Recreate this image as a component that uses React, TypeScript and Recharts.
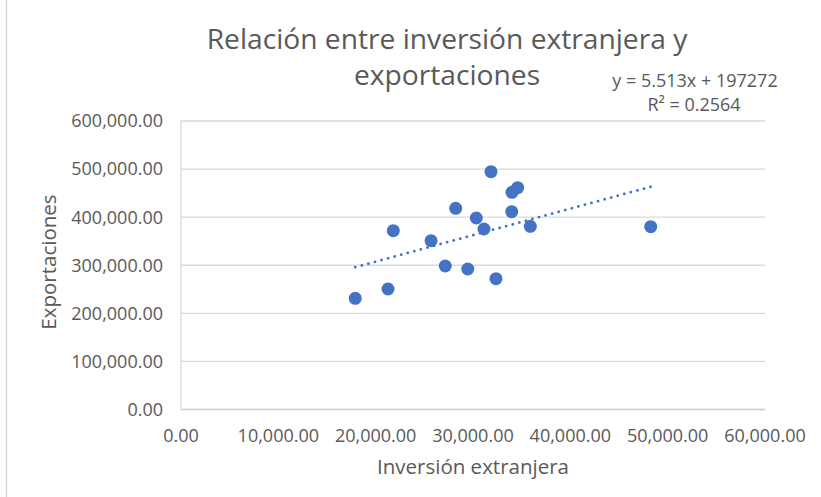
import React from 'react';
import { ScatterChart, Scatter, XAxis, YAxis, CartesianGrid } from 'recharts';

const inversion = [17900, 21270, 21810, 25690, 27150, 28220, 29460, 30340, 31130, 31850, 32360, 33980, 34010, 34590, 35890, 48260];
const exportaciones = [231300, 250600, 371900, 351100, 298400, 418400, 292200, 398300, 375400, 494600, 272000, 411400, 451700, 461300, 381000, 380200];
const xTicks = [0, 10000, 20000, 30000, 40000, 50000, 60000];
const yTicks = [0, 100000, 200000, 300000, 400000, 500000, 600000];
const trendSlope = 5.513;
const trendIntercept = 197272;
const trendR2 = '0.2564';
const titleLines = ['Relación entre inversión extranjera y', 'exportaciones'];
const xTitle = 'Inversión extranjera';
const yTitle = 'Exportaciones';

const points = inversion.map((x, i) => ({ x, y: exportaciones[i] }));
const xMin = Math.min(...inversion);
const xMax = Math.max(...inversion);
const trend = [
  { x: xMin, y: trendSlope * xMin + trendIntercept },
  { x: xMax, y: trendSlope * xMax + trendIntercept },
];

const fmt = (v: number) =>
  v.toLocaleString('en-US', { minimumFractionDigits: 2, maximumFractionDigits: 2 });

const FONT = '"Open Sans", sans-serif';
const TXT = '#595959';
const BLUE = '#4472C4';

export default function App() {
  return (
    <div style={{ position: 'absolute', left: 0, top: 0, width: 821, height: 497, background: '#fff' }}>
      <ScatterChart width={821} height={497} margin={{ top: 121, right: 56, left: 0, bottom: 0 }}>
        <CartesianGrid horizontal={true} vertical={false} stroke="#d9d9d9" strokeWidth={1.3} />
        <XAxis
          type="number"
          dataKey="x"
          domain={[0, 60000]}
          ticks={xTicks}
          tickFormatter={fmt}
          height={87.5}
          tickLine={false}
          tickSize={0}
          tickMargin={20}
          axisLine={{ stroke: '#d0d0d0', strokeWidth: 1.3 }}
          tick={{ fill: TXT, fontSize: 18, fontFamily: FONT }}
          interval={0}
        />
        <YAxis
          type="number"
          dataKey="y"
          domain={[0, 600000]}
          ticks={yTicks}
          tickFormatter={fmt}
          width={181}
          tickLine={false}
          tickSize={0}
          tickMargin={18}
          axisLine={{ stroke: '#d9d9d9', strokeWidth: 1.3 }}
          tick={{ fill: TXT, fontSize: 18, fontFamily: FONT }}
          interval={0}
        />
        <Scatter
          data={points}
          isAnimationActive={false}
          shape={(p: any) => <circle cx={p.cx} cy={p.cy} r={6.5} fill={BLUE} />}
        />
        <Scatter
          data={trend}
          isAnimationActive={false}
          shape={() => <g />}
          line={{ stroke: BLUE, strokeWidth: 2.75, strokeDasharray: '0.1 6.7', strokeLinecap: 'round' }}
        />
      </ScatterChart>
      <svg
        width={821}
        height={497}
        style={{ position: 'absolute', left: 0, top: 0, pointerEvents: 'none' }}
      >
        <line x1={6.5} y1={0} x2={6.5} y2={497} stroke="#d9d9d9" strokeWidth={1.5} />
        <text x={447} y={49} textAnchor="middle" fontFamily={FONT} fontSize={28.2} fill={TXT}>
          {titleLines[0]}
        </text>
        <text x={447} y={85} textAnchor="middle" fontFamily={FONT} fontSize={28.2} fill={TXT}>
          {titleLines[1]}
        </text>
        <text x={695} y={87} textAnchor="middle" fontFamily={FONT} fontSize={18} fill={TXT}>
          {`y = ${trendSlope}x + ${trendIntercept}`}
        </text>
        <text x={694} y={111} textAnchor="middle" fontFamily={FONT} fontSize={18} fill={TXT}>
          {`R² = ${trendR2}`}
        </text>
        <text x={473} y={474} textAnchor="middle" fontFamily={FONT} fontSize={20.5} fill={TXT}>
          {xTitle}
        </text>
        <text
          x={0}
          y={0}
          transform="translate(56,262) rotate(-90)"
          textAnchor="middle"
          fontFamily={FONT}
          fontSize={20.5}
          fill={TXT}
        >
          {yTitle}
        </text>
      </svg>
    </div>
  );
}
